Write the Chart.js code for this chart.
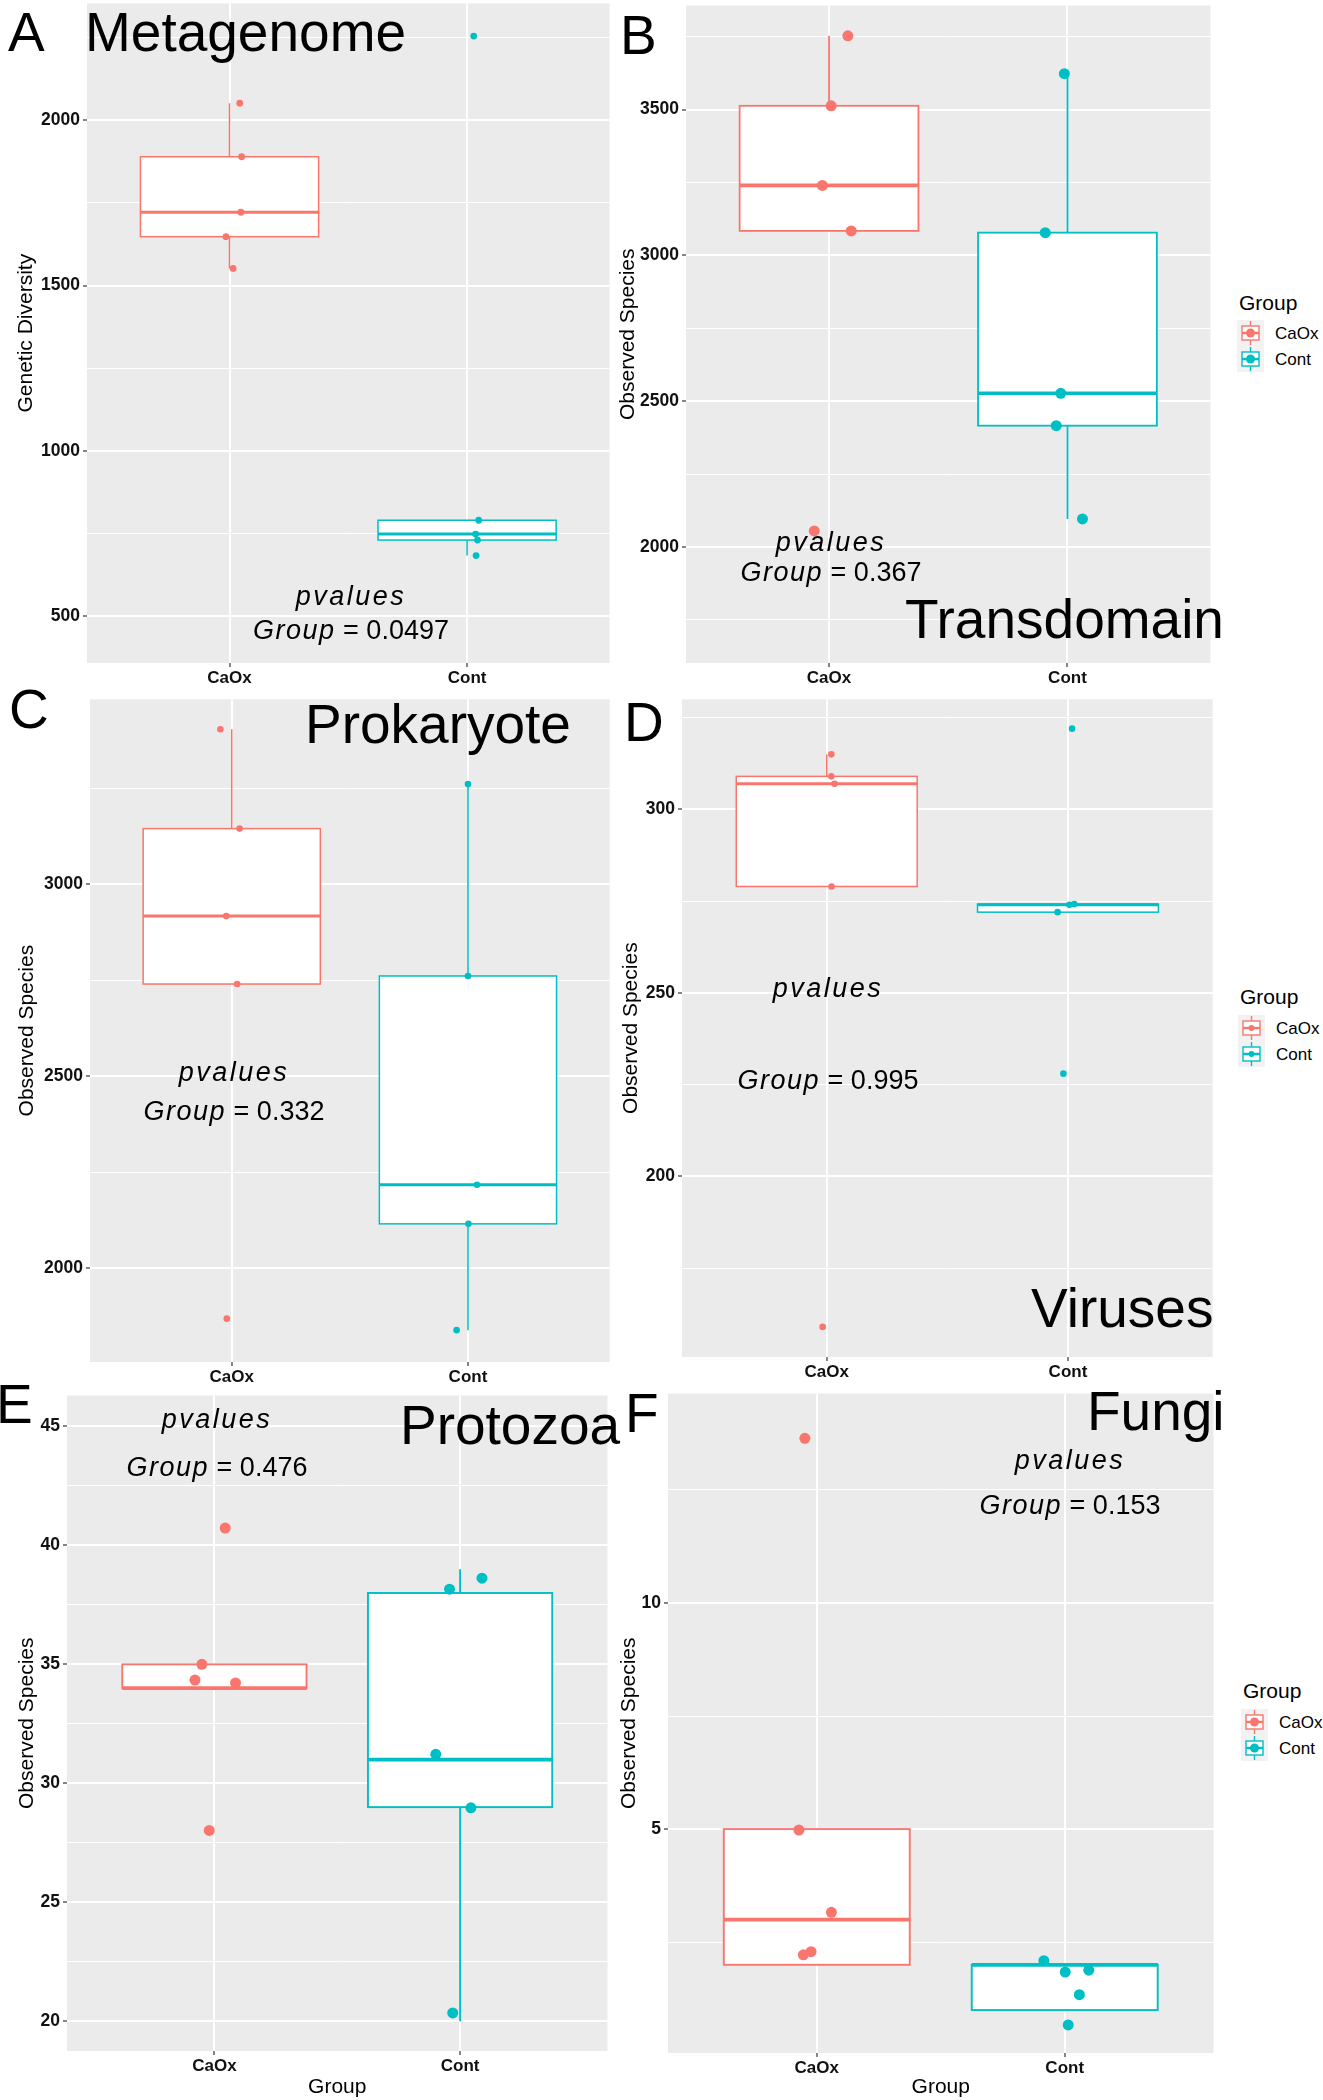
<!DOCTYPE html>
<html>
<head>
<meta charset="utf-8">
<script src="https://cdn.jsdelivr.net/npm/chart.js@4.4.1/dist/chart.umd.min.js"></script>
<style>
  body { margin: 0; background: #fff; }
  #fig { position: relative; width: 1323px; height: 2100px; overflow: hidden; font-family: "Liberation Sans", Arial, sans-serif; }
  #fig canvas { position: absolute; z-index: 1; }
  .txt { position: absolute; white-space: nowrap; line-height: 1; color: #000; z-index: 2; }
  .txt i.sp { letter-spacing: 2.5px; }
  .txt i.gp { letter-spacing: 1.5px; }
  .leg { position: absolute; z-index: 2; color: #000; width: 90px; height: 26px; }
  .leg span { position: absolute; left: 38px; top: 4.5px; font-size: 17px; line-height: 1; white-space: nowrap; }
</style>
</head>
<body>
<div id="fig"></div>
<script>
// ---------- data ----------
const GROUPS = ['CaOx', 'Cont'];
const COLORS = ['#F8766D', '#00BFC4'];

// A  Metagenome (Genetic Diversity)
const metaCaOx = [2052, 1890, 1722, 1648, 1552];
const metaCont = [2255, 790, 748, 730, 683];
const metaJitCaOx = [0.043, 0.051, 0.048, -0.015, 0.015];
const metaJitCont = [0.028, 0.049, 0.036, 0.044, 0.038];
const metaTicks = [500, 1000, 1500, 2000];

// B  Transdomain
const transCaOx = [3753, 3513, 3240, 3084, 2055];
const transCont = [3623, 3078, 2527, 2416, 2096];
const transJitCaOx = [0.079, 0.009, -0.028, 0.093, -0.062];
const transJitCont = [-0.013, -0.093, -0.028, -0.047, 0.063];
const transTicks = [2000, 2500, 3000, 3500];

// C  Prokaryote
const prokCaOx = [3404, 3145, 2917, 2740, 1868];
const prokCont = [3261, 2761, 2217, 2115, 1838];
const prokJitCaOx = [-0.048, 0.033, -0.023, 0.023, -0.021];
const prokJitCont = [0, 0, 0.038, 0.002, -0.048];
const prokTicks = [2000, 2500, 3000];

// D  Viruses
const virCaOx = [315, 309, 307, 279, 159];
const virCont = [322, 274.2, 274, 272, 228];
const virJitCaOx = [0.019, 0.019, 0.032, 0.02, -0.017];
const virJitCont = [0.017, 0.026, 0.006, -0.043, -0.019];
const virTicks = [200, 250, 300];

// E  Protozoa (counts, points jittered in x and y)
const protoCaOx = [41, 35, 34, 34, 28];
const protoCont = [39, 38, 31, 29, 20];
const protoJitCaOx = [0.044, -0.051, -0.079, 0.086, -0.021];
const protoJitCont = [0.089, -0.043, -0.099, 0.044, -0.03];
const protoJitYCaOx = [-0.27, 0, 0.34, 0.22, 0.02];
const protoJitYCont = [-0.38, 0.16, 0.22, -0.03, 0.35];
const protoTicks = [20, 25, 30, 35, 40, 45];

// F  Fungi
const fungiCaOx = [14, 5, 3, 2, 2];
const fungiCont = [2, 2, 2, 1, 1];
const fungiJitCaOx = [-0.048, -0.072, 0.059, -0.023, -0.054];
const fungiJitCont = [-0.084, 0.002, 0.097, 0.059, 0.014];
const fungiJitYCaOx = [-0.36, -0.02, 0.16, 0.29, 0.22];
const fungiJitYCont = [0.09, -0.16, -0.12, 0.34, -0.33];
const fungiTicks = [5, 10];

const pValues = ['0.0497', '0.367', '0.332', '0.995', '0.476', '0.153'];

// ---------- layout ----------
const FONT = '"Liberation Sans", Arial, sans-serif';
const fig = document.getElementById('fig');

const panels = [
  { name: 'Metagenome', yTitle: 'Genetic Diversity', vals: [metaCaOx, metaCont], jx: [metaJitCaOx, metaJitCont], jy: null,
    ticks: metaTicks, box: { L: 87, T: 0, R: 613, B: 663 }, yMin: 358, yMax: 2354, titleX: 26, r: 3.4, lw: 1.5, xTitle: false },
  { name: 'Transdomain', yTitle: 'Observed Species', vals: [transCaOx, transCont], jx: [transJitCaOx, transJitCont], jy: null,
    ticks: transTicks, box: { L: 686, T: 0, R: 1216, B: 663 }, yMin: 1602, yMax: 3857, titleX: 628, r: 5.5, lw: 1.8, xTitle: false },
  { name: 'Prokaryote', yTitle: 'Observed Species', vals: [prokCaOx, prokCont], jx: [prokJitCaOx, prokJitCont], jy: null,
    ticks: prokTicks, box: { L: 90, T: 696, R: 613, B: 1362 }, yMin: 1755, yMax: 3482, titleX: 27, r: 3.3, lw: 1.5, xTitle: false },
  { name: 'Viruses', yTitle: 'Observed Species', vals: [virCaOx, virCont], jx: [virJitCaOx, virJitCont], jy: null,
    ticks: virTicks, box: { L: 682, T: 696, R: 1216, B: 1357 }, yMin: 150.8, yMax: 330, titleX: 631, r: 3.3, lw: 1.5, xTitle: false },
  { name: 'Protozoa', yTitle: 'Observed Species', vals: [protoCaOx, protoCont], jx: [protoJitCaOx, protoJitCont], jy: [protoJitYCaOx, protoJitYCont],
    ticks: protoTicks, box: { L: 67, T: 1390, R: 613, B: 2051 }, yMin: 18.75, yMax: 46.3, titleX: 27, r: 5.5, lw: 1.9, xTitle: true },
  { name: 'Fungi', yTitle: 'Observed Species', vals: [fungiCaOx, fungiCont], jx: [fungiJitCaOx, fungiJitCont], jy: [fungiJitYCaOx, fungiJitYCont],
    ticks: fungiTicks, box: { L: 668, T: 1388, R: 1219, B: 2053 }, yMin: 0.05, yMax: 14.63, titleX: 629, r: 5.5, lw: 1.9, xTitle: true },
];

// quantile type 7 + Tukey whiskers, like geom_boxplot
function boxStats(vals) {
  const s = [...vals].sort((a, b) => a - b);
  const q = (p) => { const h = (s.length - 1) * p, lo = Math.floor(h); return s[lo] + (h - lo) * ((s[lo + 1] ?? s[lo]) - s[lo]); };
  const q1 = q(0.25), med = q(0.5), q3 = q(0.75), iqr = q3 - q1;
  const inside = s.filter(v => v >= q1 - 1.5 * iqr && v <= q3 + 1.5 * iqr);
  return { q1, med, q3, lo: Math.min(...inside), hi: Math.max(...inside) };
}

const panelBg = {
  id: 'panelBg',
  beforeDraw(chart) {
    const { ctx, chartArea: a } = chart;
    ctx.save();
    ctx.fillStyle = '#EBEBEB';
    ctx.fillRect(a.left, a.top, a.right - a.left, a.bottom - a.top);
    ctx.restore();
  },
};

function boxPlugin(p) {
  return {
    id: 'boxes',
    beforeDatasetsDraw(chart) {
      const { ctx, scales: { x, y } } = chart;
      ctx.save();
      p.vals.forEach((vals, gi) => {
        const st = boxStats(vals);
        const c = gi + 1;
        const xl = x.getPixelForValue(c - 0.375), xr = x.getPixelForValue(c + 0.375), xc = x.getPixelForValue(c);
        ctx.strokeStyle = COLORS[gi];
        ctx.lineWidth = p.lw;
        ctx.beginPath();
        ctx.moveTo(xc, y.getPixelForValue(st.hi)); ctx.lineTo(xc, y.getPixelForValue(st.q3));
        ctx.moveTo(xc, y.getPixelForValue(st.q1)); ctx.lineTo(xc, y.getPixelForValue(st.lo));
        ctx.stroke();
        const yt = y.getPixelForValue(st.q3), yb = y.getPixelForValue(st.q1);
        ctx.fillStyle = '#FFFFFF';
        ctx.fillRect(xl, yt, xr - xl, yb - yt);
        ctx.strokeRect(xl, yt, xr - xl, yb - yt);
        ctx.lineWidth = p.lw * 2;
        ctx.beginPath();
        const ym = y.getPixelForValue(st.med);
        ctx.moveTo(xl, ym); ctx.lineTo(xr, ym);
        ctx.stroke();
      });
      ctx.restore();
    },
  };
}

function makePanel(p) {
  const left = p.titleX - 15;
  const bottom = p.xTitle ? 2100 : p.box.B + 30;
  const W = p.box.R - left, H = bottom - p.box.T;
  const yW = p.box.L - left, xH = bottom - p.box.B;
  const step = p.ticks[1] - p.ticks[0];
  const isMajor = (v) => p.ticks.some(t => Math.abs(t - v) < step * 1e-6);

  const cv = document.createElement('canvas');
  cv.width = W; cv.height = H;
  cv.style.left = left + 'px'; cv.style.top = p.box.T + 'px';
  cv.style.width = W + 'px'; cv.style.height = H + 'px';
  fig.appendChild(cv);

  const datasets = p.vals.map((vals, gi) => ({
    label: GROUPS[gi],
    data: vals.map((v, i) => ({ x: gi + 1 + p.jx[gi][i], y: v + (p.jy ? p.jy[gi][i] : 0) })),
    backgroundColor: COLORS[gi],
    borderWidth: 0,
    pointRadius: p.r,
    pointHoverRadius: p.r,
  }));

  new Chart(cv, {
    type: 'scatter',
    data: { datasets },
    options: {
      responsive: false,
      maintainAspectRatio: false,
      animation: false,
      events: [],
      layout: { padding: 0 },
      plugins: { legend: { display: false }, tooltip: { enabled: false } },
      scales: {
        x: {
          type: 'linear', min: 0.4, max: 2.6,
          afterBuildTicks: (s) => { s.ticks = GROUPS.map((g, i) => ({ value: i + 1 })); },
          afterFit: (s) => { s.height = xH; s.paddingLeft = 0; s.paddingRight = 0; },
          ticks: {
            callback: (v) => GROUPS[Math.round(v) - 1] || '',
            font: { family: FONT, size: 17, weight: 'bold' }, color: '#111',
            padding: 1, maxRotation: 0, autoSkip: false,
          },
          grid: { color: '#FFFFFF', lineWidth: 2, tickLength: 4, tickColor: '#333', tickWidth: 1.2 },
          border: { display: false },
          title: { display: p.xTitle, text: 'Group', font: { family: FONT, size: 21 }, color: '#000', padding: { top: 0, bottom: 0 } },
        },
        y: {
          type: 'linear', min: p.yMin, max: p.yMax,
          afterBuildTicks: (s) => {
            const t = [];
            p.ticks.forEach((v, i) => {
              t.push(v);
              if (i === 0 && v - step / 2 >= p.yMin) t.push(v - step / 2);
              if (v + step / 2 <= p.yMax) t.push(v + step / 2);
            });
            s.ticks = [...new Set(t)].sort((a, b) => a - b).map(value => ({ value }));
          },
          afterFit: (s) => { s.width = yW; s.paddingTop = 0; s.paddingBottom = 0; },
          ticks: {
            callback: (v) => (isMajor(v) ? String(v) : ''),
            font: { family: FONT, size: 17.5, weight: 'bold' }, color: '#111',
            padding: 3, autoSkip: false,
          },
          grid: {
            color: '#FFFFFF',
            lineWidth: (c) => (c.tick && isMajor(c.tick.value) ? 2 : 1),
            tickLength: 4,
            tickColor: (c) => (c.tick && isMajor(c.tick.value) ? '#333' : 'rgba(0,0,0,0)'),
            tickWidth: 1.2,
          },
          border: { display: false },
          title: { display: true, text: p.yTitle, font: { family: FONT, size: 21 }, color: '#000', padding: { top: 15 - 12.6, bottom: 0 } },
        },
      },
    },
    plugins: [panelBg, boxPlugin(p)],
  });
}

panels.forEach(makePanel);

// ---------- text overlays ----------
function putText(html, x, baseline, size, center) {
  const d = document.createElement('div');
  d.className = 'txt';
  d.innerHTML = html;
  d.style.fontSize = size + 'px';
  d.style.top = (baseline - 0.8465 * size) + 'px';
  d.style.left = x + 'px';
  if (center) d.style.transform = 'translateX(-50%)';
  fig.appendChild(d);
}

const headings = [
  ['A', 8, 52], ['Metagenome', 85, 52],
  ['B', 620, 55], ['Transdomain', 905, 639],
  ['C', 9, 729], ['Prokaryote', 305, 744],
  ['D', 624, 742], ['Viruses', 1031, 1328],
  ['E', -4, 1424], ['Protozoa', 400, 1445],
  ['F', 625, 1433], ['Fungi', 1087, 1431],
];
headings.forEach(([t, x, b]) => putText(t, x, b, 55));

const pvPos = [[351, 606, 640], [831, 552, 582], [234, 1082, 1121], [828, 998, 1090], [217, 1429, 1477], [1070, 1470, 1515]];
pvPos.forEach(([cx, b1, b2], i) => {
  putText('<i class="sp">pvalues</i>', cx, b1, 27, true);
  putText('<i class="gp">Group</i> = ' + pValues[i], cx, b2, 27, true);
});

function keySvg(color, r) {
  return `<svg width="27" height="26" style="position:absolute;left:0;top:0">
    <rect x="0" y="0" width="27" height="26" fill="#F2F2F2"/>
    <line x1="13.5" y1="1" x2="13.5" y2="25" stroke="${color}" stroke-width="1.4"/>
    <rect x="5" y="6" width="17" height="14" fill="#FFFFFF" stroke="${color}" stroke-width="1.4"/>
    <line x1="5" y1="13" x2="22" y2="13" stroke="${color}" stroke-width="2.4"/>
    <circle cx="13.5" cy="13" r="${r}" fill="${color}"/></svg>`;
}

const legends = [
  { left: 1237, titleBase: 310, rows: [320, 346], r: 4.5 },
  { left: 1238, titleBase: 1004, rows: [1015, 1041], r: 3 },
  { left: 1241, titleBase: 1698, rows: [1709, 1735], r: 4.5 },
];
legends.forEach((lg) => {
  putText('Group', lg.left + 2, lg.titleBase, 21, false);
  lg.rows.forEach((top, gi) => {
    const d = document.createElement('div');
    d.className = 'leg';
    d.style.left = lg.left + 'px';
    d.style.top = top + 'px';
    d.innerHTML = keySvg(COLORS[gi], lg.r) + `<span>${GROUPS[gi]}</span>`;
    fig.appendChild(d);
  });
});
</script>
</body>
</html>
